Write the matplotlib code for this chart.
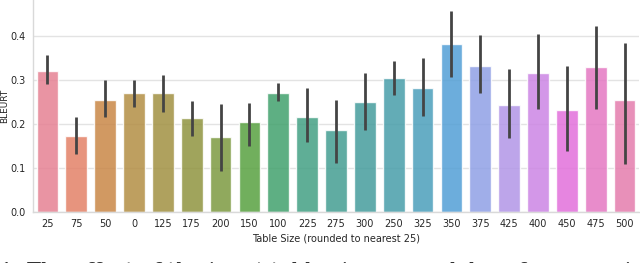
import numpy as np
import matplotlib
matplotlib.use("Agg")
import matplotlib.pyplot as plt
import seaborn as sns

# table size buckets, in the order they appear on the axis
sizes = ["25", "75", "50", "0", "125", "175", "200", "150", "100", "225", "275",
         "300", "250", "325", "350", "375", "425", "400", "450", "475", "500"]
# mean BLEURT per bucket
bleurt = [0.320, 0.173, 0.255, 0.270, 0.270, 0.213, 0.171, 0.204, 0.271, 0.217, 0.186,
          0.251, 0.304, 0.281, 0.383, 0.333, 0.243, 0.315, 0.233, 0.329, 0.255]
# confidence interval bounds
ci_low = [0.290, 0.131, 0.216, 0.239, 0.228, 0.173, 0.093, 0.151, 0.253, 0.160, 0.111,
          0.186, 0.266, 0.219, 0.308, 0.270, 0.169, 0.234, 0.139, 0.234, 0.109]
ci_high = [0.357, 0.217, 0.300, 0.300, 0.311, 0.252, 0.245, 0.248, 0.294, 0.283, 0.255,
           0.317, 0.343, 0.349, 0.458, 0.402, 0.325, 0.404, 0.332, 0.423, 0.385]

sns.set_style("whitegrid")
plt.rcParams['font.family'] = ['DejaVu Sans']

fig = plt.figure(figsize=(6.4, 2.63), dpi=100)
ax = fig.add_axes([33 / 640, 1 - 212 / 263, 606 / 640, 212 / 263])

colors = sns.color_palette("husl", len(sizes), desat=0.75)
x = np.arange(len(sizes))
ax.bar(x, bleurt, width=0.75, color=colors, alpha=0.85, zorder=2)
for xi, lo, hi in zip(x, ci_low, ci_high):
    ax.plot([xi, xi], [lo, hi], color='#444444', linewidth=2.0, zorder=3,
            solid_capstyle='butt')

ax.set_xlim(-0.5, len(sizes) - 0.5)
ax.set_ylim(0, 0.482)
ax.set_yticks([0.0, 0.1, 0.2, 0.3, 0.4])
ax.set_yticklabels(["0.0", "0.1", "0.2", "0.3", "0.4"])
ax.set_xticks(x)
ax.set_xticklabels(sizes)
ax.tick_params(axis='y', labelsize=7, pad=5, length=0)
ax.tick_params(axis='x', labelsize=7, pad=5, length=0)
ax.grid(axis='x', visible=False)
ax.grid(axis='y', color='#e3e3e3', linewidth=1.0)
for side in ['top', 'right']:
    ax.spines[side].set_visible(False)
for side in ['left', 'bottom']:
    ax.spines[side].set_color('#d9d9d9')
    ax.spines[side].set_linewidth(1.0)

ax.set_ylabel("BLEURT", fontsize=6.5)
ax.yaxis.set_label_coords(-0.039, 0.5)
ax.set_xlabel("Table Size (rounded to nearest 25)", fontsize=7, labelpad=3)

# caption of the paper figure, only its top edge shows at the lower border
fig.text(0.0, 1 - 261.8 / 263, "1: The effect of the input table size on model performance in ToTTo, in which the",
         fontsize=15, family='DejaVu Serif', color='#333333', va='top', ha='left')

fig.savefig("out.png", dpi=100)
